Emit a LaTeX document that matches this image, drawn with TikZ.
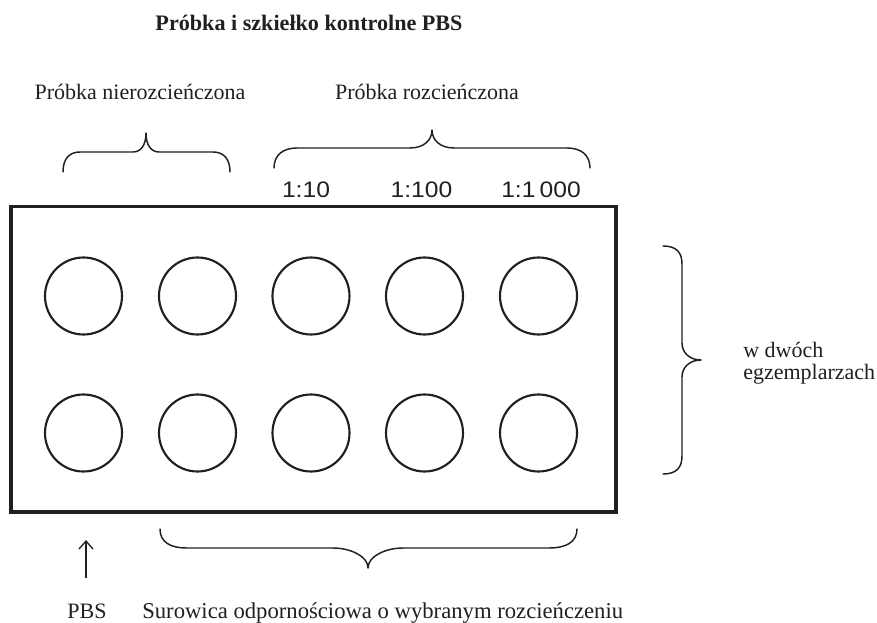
\documentclass[tikz,border=0pt]{standalone}
\usepackage{fontspec}
\setmainfont{Liberation Serif}
\newfontfamily\ratiofont{Liberation Sans}
\usetikzlibrary{arrows.meta}
\definecolor{ink}{HTML}{231F20}
\begin{document}
\begin{tikzpicture}[x=0.75pt,y=-0.75pt,
  lab/.style={font=\fontsize{16.5pt}{19pt}\selectfont, text=ink, inner sep=0pt},
  ttl/.style={font=\fontsize{16.6pt}{19pt}\selectfont\bfseries, text=ink, inner sep=0pt, anchor=base},
  ratio/.style={font=\fontsize{16.8pt}{19pt}\selectfont\ratiofont, text=ink, inner sep=0pt, anchor=base},
  well/.style={circle, draw=ink, line width=1.6pt, inner sep=0pt, minimum size=57.75pt},
  brace/.style={draw=ink, line width=1.1pt, line cap=round, line join=round},
  plate/.style={draw=ink, line width=2.6pt}]
\useasboundingbox (0,0) rectangle (877,623);
\fill[white] (0,0) rectangle (877,623);

% title
\node[ttl] (title) at (309,31) {Próbka i szkiełko kontrolne PBS};

% group labels
\node[lab, anchor=base] (undil) at (140,100) {Próbka nierozcieńczona};
\node[lab, anchor=base] (dil) at (427,100) {Próbka rozcieńczona};

% top braces
\draw[brace] (63,172) .. controls (63,158) and (70,152) .. (80,152) -- (133,152)
  .. controls (141,152) and (146,145) .. (146,133)
  .. controls (146,145) and (151,152) .. (159,152) -- (213,152)
  .. controls (223,152) and (230,158) .. (230,172);
\draw[brace] (274,168) .. controls (274,155) and (283,148) .. (297,148) -- (410,148)
  .. controls (424,148) and (432,140) .. (432,130)
  .. controls (432,140) and (440,148) .. (454,148) -- (567,148)
  .. controls (581,148) and (590,155) .. (590,168);

% ratio labels
\node[ratio] (r10) at (306,198) {\scalebox{1.1}[1]{1:10}};
\node[ratio] (r100) at (421.5,198) {\scalebox{1.1}[1]{1:100}};
\node[ratio] (r1000) at (541,198) {\scalebox{1.1}[1]{1:1\,000}};

% plate
\draw[plate] (11,206.5) rectangle (616,512);

% wells
\foreach \c/\x in {1/83.5,2/197.5,3/311,4/424.5,5/538.5}{
  \node[well] (wa\c) at (\x,296) {};
  \node[well] (wb\c) at (\x,433) {};
}

% right brace
\draw[brace] (663,246) .. controls (676,246) and (682,252) .. (682,264) -- (682,343)
  .. controls (682,353) and (690,360) .. (701,360)
  .. controls (690,360) and (682,367) .. (682,377) -- (682,456)
  .. controls (682,468) and (676,474) .. (663,474);
\node[lab, anchor=base west] (dup1) at (743,357) {w dwóch};
\node[lab, anchor=base west] (dup2) at (743,379) {egzemplarzach};

% bottom brace
\draw[brace] (160,529) .. controls (160,542) and (170,548) .. (187,548) -- (333,548)
  .. controls (350,548) and (368,556) .. (368,568)
  .. controls (368,556) and (386,548) .. (403,548) -- (549,548)
  .. controls (566,548) and (577,542) .. (577,529);

% arrow
\coordinate (arrB) at (86,578);
\coordinate (arrT) at (86,540);
\draw[draw=ink, line width=1pt, -{Straight Barb[length=6pt,width=10.5pt,line width=1pt]}] (arrB) -- (arrT);

% bottom labels
\node[lab, anchor=base] (pbs) at (87,618) {PBS};
\node[lab, font=\fontsize{17pt}{19pt}\selectfont, anchor=base west] (serum) at (142,618) {Surowica odpornościowa o wybranym rozcieńczeniu};
\end{tikzpicture}
\end{document}
